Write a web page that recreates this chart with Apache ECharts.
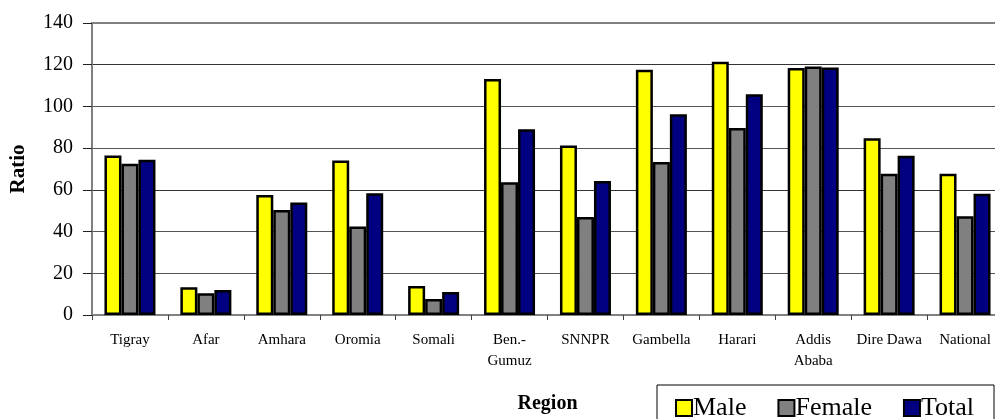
<!DOCTYPE html>
<html>
<head>
<meta charset="utf-8">
<script src="https://cdn.jsdelivr.net/npm/echarts@6/dist/echarts.min.js"></script>
<style>
html,body{margin:0;padding:0;background:#fff;}
#c{width:995px;height:419px;}
</style>
</head>
<body>
<div id="c"></div>
<script>
const categories = ['Tigray','Afar','Amhara','Oromia','Somali','Ben.-\nGumuz','SNNPR','Gambella','Harari','Addis\nAbaba','Dire Dawa','National'];
const male   = [76.5, 13.3, 57.5, 74.1, 13.9, 113.1, 81.3, 117.6, 121.4, 118.4, 84.8, 67.7];
const female = [72.5, 10.4, 50.4, 42.4, 7.7, 63.7, 47.0, 73.3, 89.6, 119.2, 67.7, 47.4];
const total  = [74.4, 12.0, 53.9, 58.4, 11.0, 89.1, 64.3, 96.3, 105.8, 118.7, 76.3, 58.1];
const yTicks = [0, 20, 40, 60, 80, 100, 120, 140];

const FONT = "'Liberation Serif','Times New Roman',serif";
const chart = echarts.init(document.getElementById('c'), null, {renderer: 'canvas'});

function barSeries(name, data, color) {
  return {
    name: name,
    type: 'bar',
    data: data,
    barWidth: 17,
    barGap: '0%',
    itemStyle: { color: color, borderColor: '#000', borderWidth: 2.5 },
    emphasis: { disabled: true },
    animation: false
  };
}

chart.setOption({
  animation: false,
  backgroundColor: '#fff',
  textStyle: { fontFamily: FONT, color: '#000' },
  grid: {
    left: 92, top: 23, right: -8, bottom: 104,
    containLabel: false,
    outerBoundsMode: 'none',
    show: true, borderColor: '#808080', borderWidth: 2, backgroundColor: 'transparent'
  },
  legend: {
    left: 657, top: 385,
    padding: [10, 20, 10, 18],
    itemGap: 31,
    icon: 'rect',
    itemWidth: 16, itemHeight: 16,
    borderColor: '#000', borderWidth: 1,
    itemStyle: { borderColor: '#000', borderWidth: 2 },
    textStyle: { fontFamily: FONT, fontSize: 26, color: '#000', padding: [0, 0, 0, -4] },
    data: ['Male', 'Female', 'Total']
  },
  xAxis: {
    type: 'category',
    data: categories,
    name: 'Region',
    nameLocation: 'middle',
    nameGap: 79,
    nameTextStyle: { fontFamily: FONT, fontSize: 20, fontWeight: 'bold', color: '#000' },
    axisLine: { show: true, lineStyle: { color: '#808080', width: 2 } },
    axisTick: { show: true, alignWithLabel: false, length: 5, lineStyle: { color: '#404040', width: 1 } },
    axisLabel: { fontFamily: FONT, fontSize: 15, color: '#000', margin: 15, lineHeight: 21, interval: 0 },
    splitLine: { show: false }
  },
  yAxis: {
    type: 'value',
    min: 0, max: 140, interval: 20,
    name: 'Ratio',
    nameLocation: 'middle',
    nameGap: 63,
    nameRotate: 90,
    nameTextStyle: { fontFamily: FONT, fontSize: 21, fontWeight: 'bold', color: '#000' },
    axisLine: { show: true, lineStyle: { color: '#808080', width: 2 } },
    axisTick: { show: true, inside: false, length: 9, lineStyle: { color: '#202020', width: 1 } },
    axisLabel: {
      fontFamily: FONT, fontSize: 20, color: '#000', margin: 19,
      formatter: function (v) { return yTicks.indexOf(v) >= 0 ? String(v) : ''; }
    },
    splitLine: { show: true, lineStyle: { color: ['#808080','#555','#555','#333','#555','#555','#333','#808080'], width: 1 } }
  },
  series: [
    barSeries('Male', male, '#FFFF00'),
    barSeries('Female', female, '#808080'),
    barSeries('Total', total, '#000080')
  ]
});
</script>
</body>
</html>
